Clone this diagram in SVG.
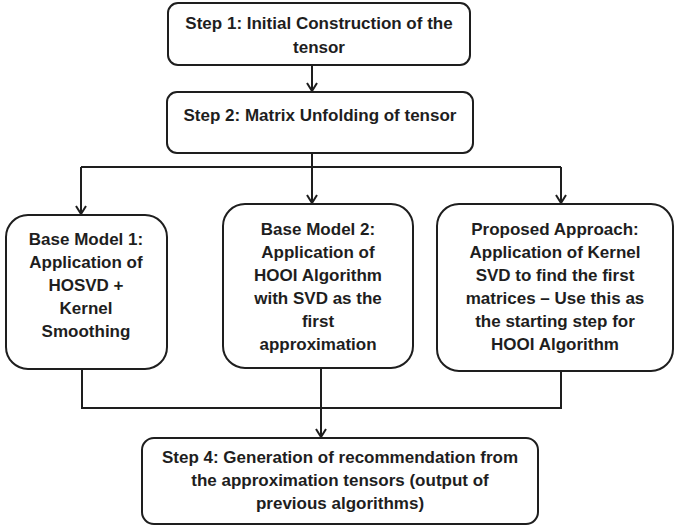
<svg xmlns="http://www.w3.org/2000/svg" width="677" height="529" viewBox="0 0 677 529">
<style>
.box{fill:#fff;stroke:#1e1e1e;stroke-width:2}
.t{font-family:"Liberation Sans",Arial,sans-serif;font-size:17px;font-weight:bold;fill:#1e1e1e;text-anchor:middle}
.c{fill:none;stroke:#1e1e1e;stroke-width:2}
</style>
<defs>
<marker id="ah" viewBox="0 0 10 12" refX="9" refY="6" markerWidth="10" markerHeight="12" markerUnits="userSpaceOnUse" orient="auto">
<path d="M1 1 L9 6 L1 11" fill="none" stroke="#1e1e1e" stroke-width="2"/>
</marker>
</defs>
<rect width="677" height="529" fill="#fff"/>
<g id="connectors">
<path class="c" d="M312 65 V91" marker-end="url(#ah)"/>
<path class="c" d="M312 153 V167 M81 167 H561"/>
<path class="c" d="M81 167 V214" marker-end="url(#ah)"/>
<path class="c" d="M312 167 V203" marker-end="url(#ah)"/>
<path class="c" d="M561 167 V203" marker-end="url(#ah)"/>
<path class="c" d="M82 369 V408 H561 V371"/>
<path class="c" d="M321 368 V437" marker-end="url(#ah)"/>
</g>
<g id="step1">
<rect class="box" x="168" y="3" width="302" height="62" rx="10"/>
<text class="t" x="319" y="29">Step 1: Initial Construction of the</text>
<text class="t" x="319" y="53">tensor</text>
</g>
<g id="step2">
<rect class="box" x="167" y="92" width="306" height="61" rx="10"/>
<text class="t" x="320" y="121">Step 2: Matrix Unfolding of tensor</text>
</g>
<g id="base1">
<rect class="box" x="6" y="215" width="161" height="154" rx="22"/>
<text class="t" x="86" y="245">Base Model 1:</text>
<text class="t" x="86" y="268">Application of</text>
<text class="t" x="86" y="291">HOSVD +</text>
<text class="t" x="86" y="314">Kernel</text>
<text class="t" x="86" y="337">Smoothing</text>
</g>
<g id="base2">
<rect class="box" x="223" y="204" width="190" height="164" rx="22"/>
<text class="t" x="318" y="235">Base Model 2:</text>
<text class="t" x="318" y="258">Application of</text>
<text class="t" x="318" y="281">HOOI Algorithm</text>
<text class="t" x="318" y="304">with SVD as the</text>
<text class="t" x="318" y="327">first</text>
<text class="t" x="318" y="350">approximation</text>
</g>
<g id="proposed">
<rect class="box" x="437" y="204" width="236" height="167" rx="22"/>
<text class="t" x="555" y="235">Proposed Approach:</text>
<text class="t" x="555" y="258">Application of Kernel</text>
<text class="t" x="555" y="281">SVD to find the first</text>
<text class="t" x="555" y="304">matrices – Use this as</text>
<text class="t" x="555" y="327">the starting step for</text>
<text class="t" x="555" y="350">HOOI Algorithm</text>
</g>
<g id="step4">
<rect class="box" x="142" y="438" width="396" height="86" rx="12"/>
<text class="t" x="340" y="463">Step 4: Generation of recommendation from</text>
<text class="t" x="340" y="486">the approximation tensors (output of</text>
<text class="t" x="340" y="509">previous algorithms)</text>
</g>
</svg>
